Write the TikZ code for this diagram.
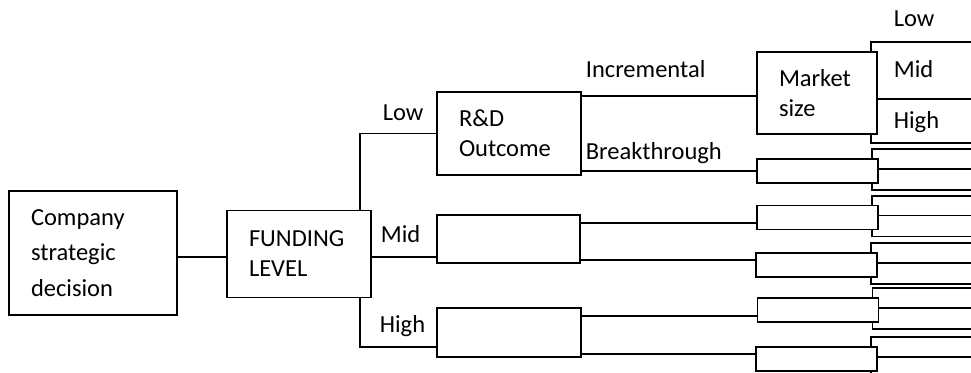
\documentclass[tikz,border=0pt]{standalone}
\usepackage{fontspec}
\setmainfont{Carlito}
\usepackage{tikz}

\begin{document}
\begin{tikzpicture}[x=1pt, y=-1pt,
			line width=1.7pt,
			box/.style={draw=black, fill=white, inner xsep=22pt, inner ysep=0pt, align=left, font=\fontsize{24.5}{30}\selectfont},
			leaf/.style={draw=black, fill=white, minimum width=121pt, minimum height=24pt, inner sep=0pt},
			tag/.style={anchor=base west, inner sep=0pt, font=\fontsize{24.5}{30}\selectfont}]

			\useasboundingbox (0,0) rectangle (971,372);
			\clip (0,0) rectangle (971,372);

			\node[box, text width=124pt, minimum height=124pt, font=\fontsize{24.5}{35.5}\selectfont] (company) at (93,253) {Company\\strategic\\decision};
			\node[box, text width=100pt, minimum height=87pt] (funding) at (299,254) {FUNDING\\LEVEL};
			\node[box, text width=100pt, minimum height=83pt] (rdlow) at (509,133.5) {R\&D\\Outcome};
			\node[box, text width=99pt, minimum height=48pt] (rdmid) at (508.5,239) {};
			\node[box, text width=100pt, minimum height=49pt] (rdhigh) at (509,332.5) {};
			\node[box, text width=76pt, minimum height=82pt] (market) at (817,93) {Market\\size};
			\node[leaf] (brk) at (817.5,171) {};
			\node[leaf] (mida) at (817.5,217.5) {};
			\node[leaf] (midb) at (816.5,265) {};
			\node[leaf] (higha) at (818,310) {};
			\node[leaf] (highb) at (816.5,359) {};

			\draw ([yshift=-3pt]funding.west -| company.east) -- ([yshift=-3pt]funding.west);
			\draw ([xshift=-12pt]funding.north east) |- (rdlow.west);
			\draw ([yshift=-3pt]funding.east) -- ([yshift=-3pt]funding.east -| rdmid.west);
			\draw ([xshift=-12pt]funding.south east) |- ([yshift=-14.5pt]rdhigh.west);

			\draw ([yshift=-5pt]rdlow.north east) -- ([yshift=-5pt]rdlow.north east -| market.west);
			\draw ([yshift=5pt]rdlow.south east) -- ([yshift=5pt]rdlow.south east -| brk.west);
			\draw ([yshift=-9pt]rdmid.north east) -- ([yshift=-9pt]rdmid.north east -| mida.west);
			\draw ([yshift=4pt]rdmid.south east) -- ([yshift=4pt]rdmid.south east -| midb.west);
			\draw ([yshift=-9pt]rdhigh.north east) -- ([yshift=-9pt]rdhigh.north east -| higha.west);
			\draw ([yshift=4pt]rdhigh.south east) -- ([yshift=4pt]rdhigh.south east -| highb.west);

			\foreach \n/\t/\m/\u in {market/9/-6/8, brk/9/2/6, mida/9/2/6, midb/9/2/6, higha/9/2/6, highb/9/2/6} {
				\draw ([xshift=-7pt]\n.north east) -- ++(0,-\t) -- ++(120,0);
				\draw ([yshift=\m]\n.east) -- ++(120,0);
				\draw ([xshift=-7pt]\n.south east) -- ++(0,\u) -- ++(120,0);
			}

			\node[tag] (lowtag) at (382,120) {Low};
			\node[tag] (midtag) at (380,242) {Mid};
			\node[tag] (hightag) at (379,332) {High};
			\node[tag] (inctag) at (585,77) {Incremental};
			\node[tag] (brktag) at (585,159) {Breakthrough};
			\node[tag] (mslow) at (893,27) {Low};
			\node[tag] (msmid) at (893,77) {Mid};
			\node[tag] (mshigh) at (893,128) {High};
		\end{tikzpicture}
\end{document}
